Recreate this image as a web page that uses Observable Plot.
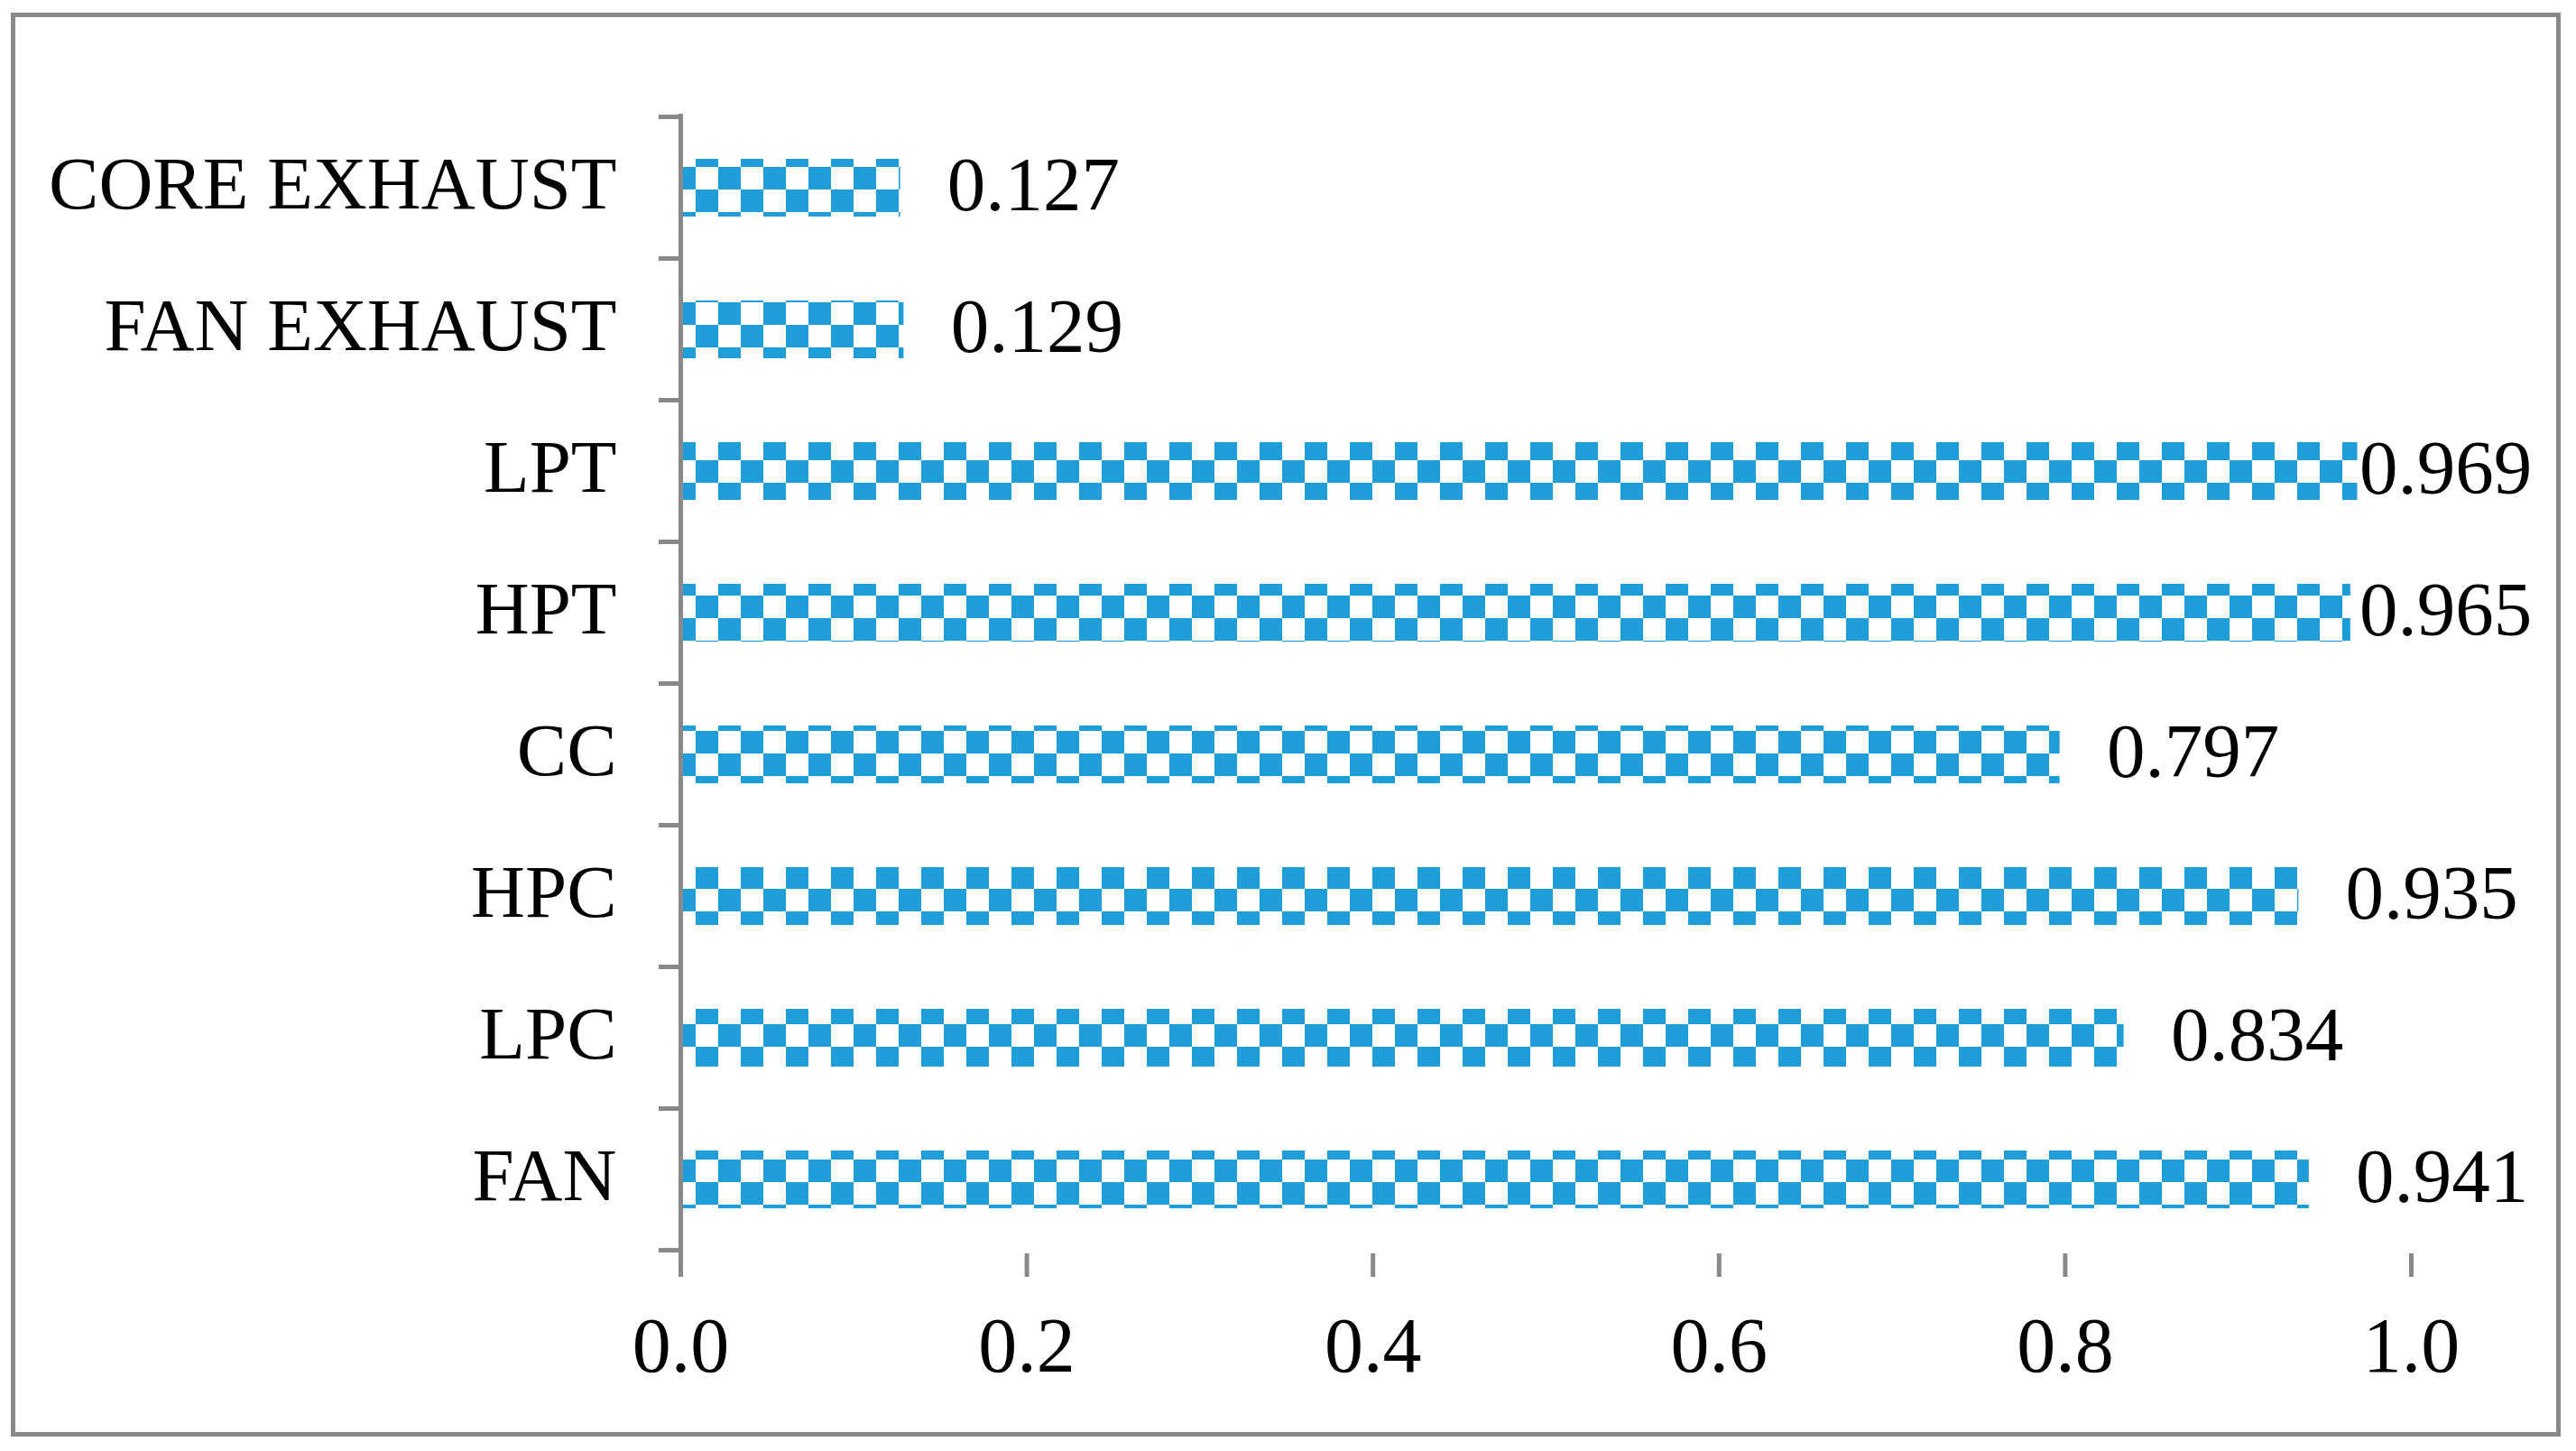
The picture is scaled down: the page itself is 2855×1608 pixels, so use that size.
<!DOCTYPE html>
<html><head><meta charset="utf-8">
<script src="https://cdn.jsdelivr.net/npm/d3@7"></script>
<script src="https://cdn.jsdelivr.net/npm/@observablehq/plot@0.6"></script>
<style>
html,body{margin:0;padding:0;background:#fff;}
#chart{position:relative;width:2855px;height:1608px;overflow:hidden;}
#chart svg{position:absolute;left:0;top:0;}
#frame{position:absolute;left:12px;top:14px;width:2826px;height:1578px;border:5px solid #898989;box-sizing:border-box;pointer-events:none;}
</style></head><body>
<div id="chart"><div id="frame"></div></div>
<script>
// Data (bottom to top, as listed in the reference)
const categories = ["FAN", "LPC", "HPC", "CC", "HPT", "LPT", "FAN EXHAUST", "CORE EXHAUST"];
const values = [0.941, 0.834, 0.935, 0.797, 0.965, 0.969, 0.129, 0.127];
const xTicks = [0, 0.2, 0.4, 0.6, 0.8, 1.0];

const data = categories.map((c, i) => ({name: c, value: values[i]}));
const order = categories.slice().reverse(); // top to bottom

const W = 2855, H = 1608;
const font = "'Liberation Serif','Times New Roman',Times,serif";
const gray = "#898989";
const blue = "#1E9DD9";
const lineW = 5;
const pIn = 0.595;

const categoryTicks = (index, scales, channels, dims) => {
  const y = scales.y, x = scales.x;
  const step = y.step(), off = (step - y.bandwidth()) / 2;
  const bounds = order.map(c => y(c) - off);
  bounds.push(bounds[bounds.length - 1] + step);
  const g = d3.create("svg:g").attr("stroke", gray).attr("stroke-width", lineW);
  g.selectAll("line").data(bounds).join("line")
    .attr("x1", x(0) - 24).attr("x2", x(0))
    .attr("y1", d => d).attr("y2", d => d);
  return g.node();
};

const plot = Plot.plot({
  width: W, height: H,
  marginLeft: 754, marginRight: 183, marginTop: 126, marginBottom: 219,
  style: {fontFamily: font, background: "transparent", color: "#000", overflow: "visible"},
  x: {domain: [0, 1]},
  y: {domain: order, paddingInner: pIn, paddingOuter: pIn / 2},
  marks: [
    Plot.barX(data, {x: "value", y: "name", fill: "url(#checker)"}),
    Plot.axisX(xTicks, {tickSize: 26, tickPadding: 43, tickFormat: d3.format(".1f"), fontSize: 86,
      stroke: gray, strokeWidth: lineW, line: true, label: null}),
    Plot.ruleX([0], {stroke: gray, strokeWidth: lineW}),
    categoryTicks,
    Plot.axisY({tickSize: 0, tickPadding: 71, fontSize: 83, dy: -4, label: null}),
    Plot.text(data, {x: d => Math.min(d.value + 0.027, 0.970), y: "name", dy: -3,
      text: d => d3.format(".3f")(d.value), textAnchor: "start", fontSize: 85, fill: "#000"})
  ]
});

const defs = d3.select(plot).insert("defs", ":first-child");
const pat = defs.append("pattern").attr("id", "checker").attr("patternUnits", "userSpaceOnUse")
  .attr("x", 21).attr("y", 10).attr("width", 50).attr("height", 50);
pat.append("rect").attr("width", 50).attr("height", 50).attr("fill", "#fff");
pat.append("rect").attr("x", 0).attr("y", 0).attr("width", 25).attr("height", 25).attr("fill", blue);
pat.append("rect").attr("x", 25).attr("y", 25).attr("width", 25).attr("height", 25).attr("fill", blue);

document.getElementById("chart").appendChild(plot);
</script>
</body></html>
